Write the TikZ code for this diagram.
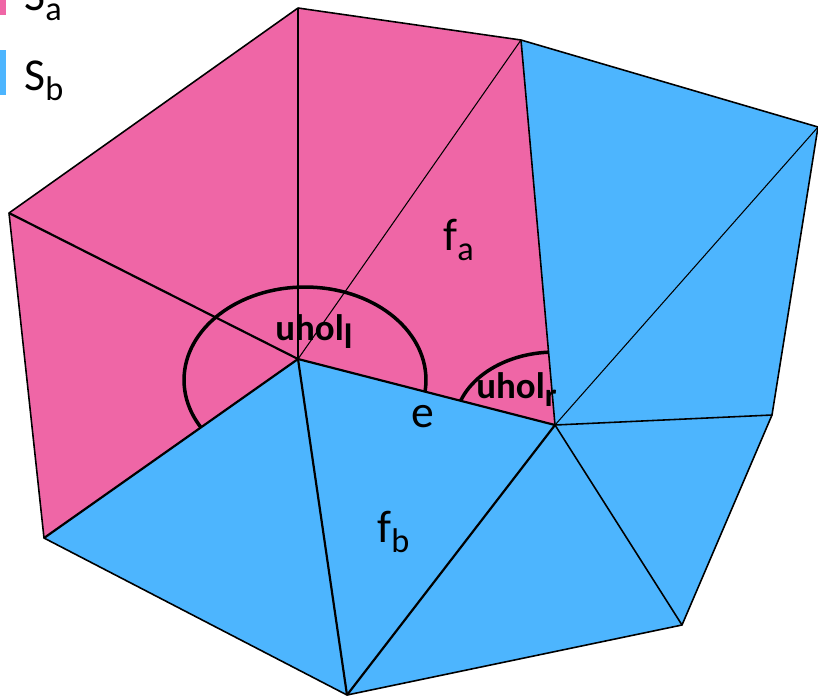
\documentclass[tikz,border=0pt]{standalone}
\usepackage{fontspec}
\setmainfont{Carlito}
\usetikzlibrary{positioning}
\definecolor{saclr}{RGB}{239,102,166}
\definecolor{sbclr}{RGB}{77,181,254}
\newcommand{\lowsub}[2][0.75]{\raisebox{-0.22em}{\scalebox{#1}{#2}}}
\tikzset{
  facea/.style={fill=saclr},
  faceb/.style={fill=sbclr},
  meshedge/.style={draw=black,line width=0.9pt,line join=round},
  thinedge/.style={meshedge,line width=0.6pt},
  boldedge/.style={meshedge,line width=1.25pt},
  anglearc/.style={draw=black,line width=2pt},
  lbl/.style={inner sep=0pt,anchor=base west,font=\fontsize{26}{30}\selectfont},
  anglelbl/.style={lbl,font=\fontsize{21}{25}\selectfont\bfseries},
}

\begin{document}
\begin{tikzpicture}[x=0.02cm,y=-0.02cm]
\useasboundingbox (0,0) rectangle (818,698);

% Mesh vertices
\coordinate (A) at (9,213);
\coordinate (B) at (298,8);
\coordinate (C) at (521,40);
\coordinate (D) at (818,127);
\coordinate (E) at (772,415);
\coordinate (F) at (682,625);
\coordinate (Q) at (347,695);
\coordinate (P) at (44,538);
\coordinate (L) at (298,359);
\coordinate (R) at (555,425);

% Faces of S_a and S_b
\foreach \i/\j/\k in {A/B/L,B/C/L,C/R/L,A/L/P}
  \fill[facea] (\i) -- (\j) -- (\k) -- cycle;
\foreach \i/\j/\k in {P/L/Q,L/R/Q,R/F/Q,R/E/F,R/D/E,R/C/D}
  \fill[faceb] (\i) -- (\j) -- (\k) -- cycle;

% Edges
\draw[meshedge] (A) -- (B) -- (C) -- (D) -- (E) -- (F) -- (Q) -- (P) -- cycle;
\draw[meshedge] (L) -- (B);
\foreach \i in {C,E,F} \draw[meshedge] (R) -- (\i);
\foreach \i in {A,P,Q} \draw[boldedge] (L) -- (\i);
\draw[boldedge] (R) -- (Q);
\draw[boldedge] (L) -- (R);
\draw[thinedge] (L) -- (C);
\draw[thinedge] (R) -- (D);

% Angles
\begin{scope}
  \clip (A) -- (B) -- (C) -- (R) -- (L) -- (P) -- cycle;
  \draw[anglearc] (305,380) ellipse [x radius=2.42cm, y radius=1.86cm];
\end{scope}
\begin{scope}
  \clip (L) -- (C) -- (R) -- cycle;
  \draw[anglearc] (R) ellipse [x radius=2.0cm, y radius=1.46cm];
\end{scope}

% Legend
\fill[saclr] (0,0) rectangle (6,15);
\fill[sbclr] (0,50) rectangle (6,95);
\node[lbl] (sa) at (24,10) {S\lowsub{a}};
\node[lbl] (sb) at (24,90) {S\lowsub{b}};

% Labels
\node[lbl] (fa) at (443,250) {f\lowsub{a}};
\node[lbl] (fb) at (377,542) {f\lowsub{b}};
\node[lbl] (e) at (411,427) {e};
\node[anglelbl] (ul) at (275,340) {uhol\lowsub[0.95]{l}};
\node[anglelbl] (ur) at (476,398) {uhol\lowsub[0.9]{r}};
\end{tikzpicture}
\end{document}
